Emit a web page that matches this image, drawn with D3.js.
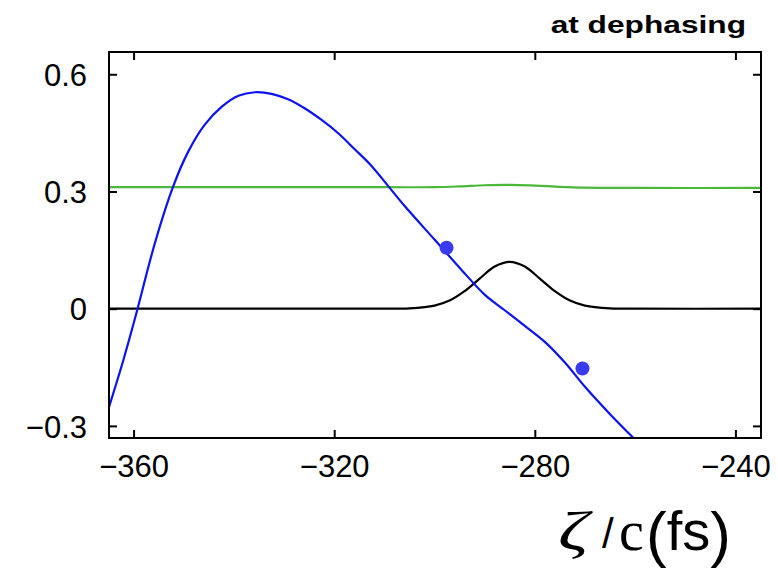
<!DOCTYPE html>
<html>
<head>
<meta charset="utf-8">
<script src="https://cdn.jsdelivr.net/npm/d3@7"></script>
<style>
  body { margin: 0; background: #fff; }
  svg { font-family: "Liberation Sans", Arial, sans-serif; }
</style>
</head>
<body>
<div class="wrapper"></div>
<script>
width = 778;
height = 572;

// plot frame
plotL = 109; plotT = 52; plotR = 761; plotB = 438;

xTicks = [-360, -320, -280, -240];
yTicks = [-0.3, 0, 0.3, 0.6];

// blue curve
blueX = [-365, -362, -359.7, -355.7, -352.1, -349.1, -345.8, -342.4, -339.1, -335.8, -332.5, -329.2, -325.9, -322.5, -319.2, -315.9, -312.6, -309.3, -305.9, -300, -295, -290, -286, -282, -278, -274, -270, -265, -260];
blueY = [-0.256, -0.13, -0.024, 0.17, 0.313, 0.402, 0.471, 0.517, 0.545, 0.554, 0.55, 0.536, 0.513, 0.483, 0.449, 0.408, 0.366, 0.315, 0.262, 0.177, 0.105, 0.036, -0.004, -0.044, -0.085, -0.138, -0.20, -0.27, -0.335];

// green curve
greenX = [-365, -340, -310, -300, -295, -290, -285, -280, -275, -270, -260, -235];
greenY = [0.311, 0.311, 0.311, 0.311, 0.313, 0.316, 0.317, 0.315, 0.312, 0.310, 0.309, 0.309];

// black curve
blackX = [-365, -330, -310, -305, -300, -297, -294, -291, -288, -285, -282, -279, -276, -273, -270, -265, -260, -235];
blackY = [0, 0, 0, 0.001, 0.008, 0.021, 0.045, 0.077, 0.108, 0.12, 0.108, 0.077, 0.045, 0.021, 0.008, 0.001, 0, 0];

// dots
dotX = [-297.6, -270.5];
dotY = [0.156, -0.153];

scaleX = d3.scaleLinear().domain([-364.9, -234.9]).range([plotL, plotR]);
scaleY = d3.scaleLinear().domain([-0.331, 0.657]).range([plotB, plotT]);

svg = d3.select(".wrapper")
  .append("svg")
  .attr("width", width)
  .attr("height", height);

svg.append("clipPath").attr("id", "plot")
  .append("rect")
  .attr("x", plotL).attr("y", plotT)
  .attr("width", plotR - plotL).attr("height", plotB - plotT);

function fmt(d) {
  return d < 0 ? "\u2212" + Math.abs(d) : String(d);
}

/* Axes */
var ax = svg.append("g").attr("transform", "translate(0," + plotB + ")")
  .call(d3.axisBottom(scaleX).tickValues(xTicks).tickSize(-8).tickFormat(fmt));
ax.selectAll("text")
  .attr("font-size", 31)
  .attr("dy", 0)
  .attr("y", 39);

var ay = svg.append("g").attr("transform", "translate(" + plotL + ",0)")
  .call(d3.axisLeft(scaleY).tickValues(yTicks).tickSize(-8).tickPadding(22).tickFormat(fmt));
ay.selectAll("text").attr("font-size", 31).attr("dy", "0.36em");

svg.append("g").attr("transform", "translate(0," + plotT + ")")
  .call(d3.axisTop(scaleX).tickValues(xTicks).tickSize(-8).tickFormat(""));
svg.append("g").attr("transform", "translate(" + plotR + ",0)")
  .call(d3.axisRight(scaleY).tickValues(yTicks).tickSize(-8).tickFormat(""));

svg.selectAll(".domain").remove();
svg.selectAll(".tick line").attr("stroke", "#000").attr("stroke-width", 2);

/* Curves */
var plot = svg.append("g").attr("clip-path", "url(#plot)");

function drawLine(xs, ys, color) {
  var pts = xs.map(function (x, i) { return [x, ys[i]]; });
  plot.append("path")
    .datum(pts)
    .attr("fill", "none")
    .attr("stroke", color)
    .attr("stroke-width", 2.2)
    .attr("d", d3.line()
      .x(function (d) { return scaleX(d[0]); })
      .y(function (d) { return scaleY(d[1]); })
      .curve(d3.curveCatmullRom.alpha(0.5)));
}

drawLine(greenX, greenY, "#4cb83a");
drawLine(blackX, blackY, "#000");
drawLine(blueX, blueY, "#0a14f0");

plot.selectAll(".dot")
  .data(dotX)
  .enter().append("circle")
  .attr("cx", function (d) { return scaleX(d); })
  .attr("cy", function (d, i) { return scaleY(dotY[i]); })
  .attr("r", 7)
  .attr("fill", "#3a3af0");

/* Frame */
svg.append("rect")
  .attr("x", plotL).attr("y", plotT)
  .attr("width", plotR - plotL).attr("height", plotB - plotT)
  .attr("fill", "none")
  .attr("stroke", "#000")
  .attr("stroke-width", 2);

/* Title and axis label */
svg.append("text")
  .attr("text-anchor", "end")
  .attr("font-weight", "bold")
  .attr("font-size", 24)
  .attr("transform", "translate(746,33) scale(1.32,1)")
  .text("at dephasing");

var serif = "'Liberation Serif', 'DejaVu Serif', serif";
var xl = svg.append("g").attr("class", "xlabel");
xl.append("text")
  .attr("font-family", serif)
  .attr("font-style", "italic")
  .attr("font-size", 54)
  .attr("transform", "translate(558,550) scale(1.4,1)")
  .text("\u03b6");
xl.append("text")
  .attr("x", 602).attr("y", 548)
  .attr("font-size", 42)
  .text("/");
xl.append("text")
  .attr("x", 619).attr("y", 550)
  .attr("font-family", serif)
  .attr("font-size", 56)
  .text("c");
var fs = xl.append("text")
  .attr("x", 646).attr("y", 555);
fs.append("tspan").attr("font-size", 62).text("(");
fs.append("tspan").attr("font-size", 56).attr("dy", -5).text("fs");
fs.append("tspan").attr("font-size", 62).attr("dy", 5).text(")");
</script>
</body>
</html>
